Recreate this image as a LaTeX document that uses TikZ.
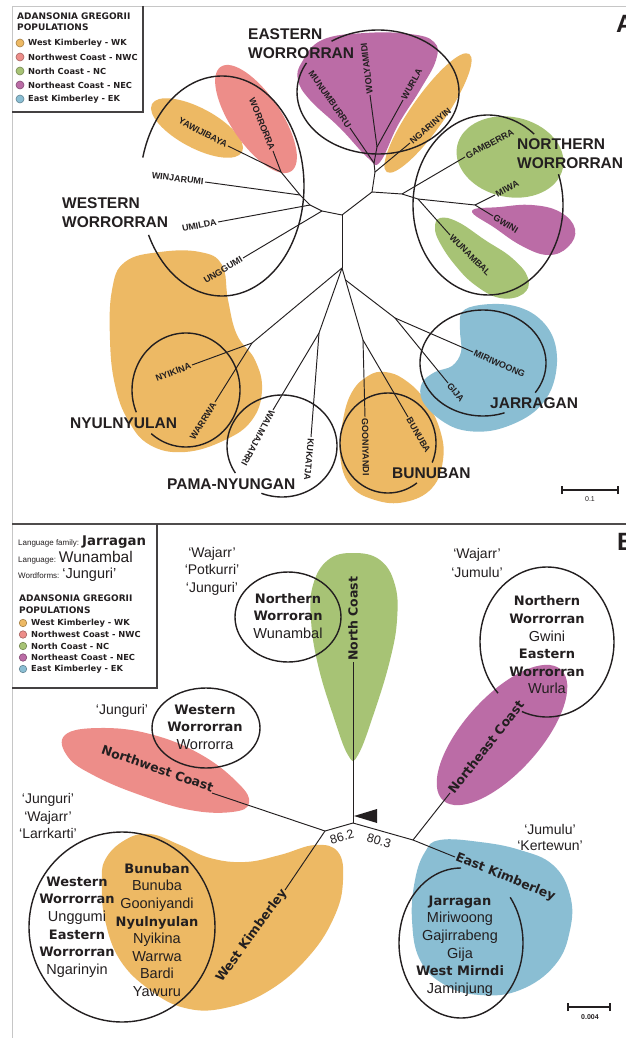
\documentclass[tikz,border=0pt]{standalone}
\usepackage{fontspec}
\setmainfont{Liberation Sans}
\newfontfamily\dvs{DejaVu Sans}
\definecolor{ink}{RGB}{35,31,32}
\definecolor{cOr}{RGB}{237,185,100}
\definecolor{cPk}{RGB}{237,141,137}
\definecolor{cGr}{RGB}{167,195,117}
\definecolor{cPu}{RGB}{187,108,166}
\definecolor{cBl}{RGB}{138,190,211}
\newcommand\garc[6]{\draw[outline] plot[domain=#5:#6,samples=100,smooth] ({#1+#3*cos(\x)},{#2+#4*sin(\x)});}
\newcommand\bw[1]{{\dvs\bfseries\fontsize{13}{17.6}\selectfont #1}}
\begin{document}
\begin{tikzpicture}[x=1pt,y=-1pt,
  leaf/.style={font=\bfseries\fontsize{9}{9.5}\selectfont, inner sep=1.3pt, text=ink},
  grp/.style={font=\bfseries\fontsize{15.5}{19.5}\selectfont, align=left, inner sep=0pt, text=ink, anchor=north west},
  br/.style={draw=ink, line width=0.95pt},
  outline/.style={draw=ink, line width=1.4pt},
  bname/.style={font=\dvs\bfseries\fontsize{12.5}{14}\selectfont, inner sep=1pt, text=ink},
  info/.style={font=\fontsize{14.5}{17.6}\selectfont, align=center, text=ink, inner sep=0pt},
  legt/.style={font=\dvs\bfseries\fontsize{9}{10.5}\selectfont, align=left, inner sep=0pt, anchor=north west, text=ink},
  legi/.style={font=\dvs\bfseries\fontsize{8.3}{9}\selectfont, anchor=west, inner sep=0pt, text=ink},
  dot/.style={circle, minimum size=8pt, inner sep=0pt, line width=0.6pt}
]
\useasboundingbox (0,0) rectangle (626,1038);
\fill[white] (0,0) rectangle (626,1038);

% ===================== frames =====================
\draw[gray!45, line width=0.8pt] (12,1038) -- (12,6) -- (626,6);
\draw[ink!85, line width=2pt] (143,6) -- (143,112) -- (12,112);
\draw[ink!80, line width=1.6pt] (12,524) -- (626,524);
\draw[ink!85, line width=2pt] (157,524) -- (157,688) -- (12,688);

% ===================== legend A =====================
\node[legt] (legAt) at (17,13) {ADANSONIA GREGORII\\POPULATIONS};
\foreach \y/\c/\t [count=\i] in {43/cOr/West Kimberley - WK,57/cPk/Northwest Coast - NWC,71/cGr/North Coast - NC,85/cPu/Northeast Coast - NEC,99/cBl/East Kimberley - EK}{
  \node[dot, fill=\c, draw=\c!70!black] (dA\i) at (20,\y) {};
  \node[legi] (tA\i) at (28,\y) {\t};
}
\node[font=\bfseries\fontsize{25}{25}\selectfont, anchor=base west, inner sep=0pt, text=ink] (lblA) at (616,33) {A};

% ===================== top blobs =====================
\fill[cOr, rotate around={-28:(197,128)}] (197,128) ellipse[x radius=51, y radius=20];
\fill[cPk, rotate around={-56:(256,119)}] (256,119) ellipse[x radius=63, y radius=25];
\fill[cPu] plot[smooth cycle, tension=0.7] coordinates {(302,62) (322,40) (365,33) (410,34) (434,42) (436,60) (420,90) (398,125) (380,162) (368,158) (340,128) (310,100) (298,80)};
\fill[cOr, rotate around={55:(428,113)}] (428,113) ellipse[x radius=72, y radius=17];
\fill[cGr, rotate around={-12:(510,157)}] (510,157) ellipse[x radius=54, y radius=40];
\fill[cPu] plot[smooth cycle, tension=0.7] coordinates {(472,211) (500,207) (532,205) (560,212) (575,229) (568,247) (548,255) (522,246) (495,228)};
\fill[cGr] plot[smooth cycle, tension=0.7] coordinates {(440,218) (458,222) (485,240) (512,258) (528,278) (523,294) (500,298) (475,285) (455,265) (440,243) (435,228)};
\fill[cOr] plot[smooth cycle, tension=0.7] coordinates {(112,290) (125,262) (160,252) (200,252) (222,265) (228,300) (237,335) (255,360) (262,390) (252,420) (225,440) (185,452) (150,445) (128,420) (115,385) (110,340)};
\fill[cOr] plot[smooth cycle, tension=0.7] coordinates {(368,376) (385,372) (405,380) (425,400) (440,430) (443,460) (432,488) (405,502) (375,500) (350,485) (340,455) (343,420) (352,392)};
\fill[cBl] plot[smooth cycle, tension=0.6] coordinates {(462,312) (480,305) (510,305) (535,315) (552,335) (557,362) (550,392) (530,415) (495,430) (462,430) (438,418) (422,400) (422,383) (435,372) (452,366) (461,352) (460,330)};

% ===================== top group outlines =====================
\garc{222}{186}{82}{110}{195}{513.6}
\garc{378}{92}{81}{62}{235}{568}
\garc{488}{205}{75}{90}{340}{668}
\garc{186}{390}{54}{57}{157}{490}
\garc{282}{446}{55}{51}{148}{472}
\garc{388}{443}{48}{50}{53}{383}
\garc{483}{363}{63}{53}{70}{394}

% ===================== top tree =====================
\coordinate (c1) at (342,215);
\coordinate (c2) at (342,268);
\coordinate (nw) at (322,211);
\coordinate (nb) at (310,205);
\coordinate (na) at (300,195);
\coordinate (np) at (281,172);
\coordinate (ej) at (372,192);
\coordinate (e1) at (375,172);
\coordinate (e2) at (374,163);
\coordinate (e3) at (377,147);
\coordinate (nn) at (402,194);
\coordinate (n2) at (418,199);
\coordinate (n3) at (475,205);
\coordinate (ny) at (252,343);
\coordinate (pn) at (319,333);
\coordinate (bj) at (345.5,280);
\coordinate (bn) at (363,340);
\coordinate (jn) at (395,318);

\coordinate (yaw) at (228,146);
\coordinate (wor) at (273,151);
\coordinate (win) at (205,182);
\coordinate (umi) at (218,222);
\coordinate (ung) at (243,258);
\coordinate (mun) at (350,128);
\coordinate (wol) at (370,95);
\coordinate (wur) at (403,100);
\coordinate (nga) at (410,143);
\coordinate (gam) at (465,157);
\coordinate (miw) at (495,195);
\coordinate (gwi) at (493,216);
\coordinate (wun) at (450,235);
\coordinate (mir) at (473,352);
\coordinate (gij) at (448,383);
\coordinate (goo) at (365,417);
\coordinate (bun) at (408,417);
\coordinate (kuk) at (311,437);
\coordinate (wal) at (273,410);
\coordinate (nyi) at (192,365);
\coordinate (war) at (215,402);

\draw[br] (c1) -- (c2);
\draw[br] (c1) -- (nw);
\draw[br] (nw) -- (ung);
\draw[br] (nw) -- (nb);
\draw[br] (nb) -- (umi);
\draw[br] (nb) -- (na);
\draw[br] (na) -- (win);
\draw[br] (na) -- (np);
\draw[br] (np) -- (yaw);
\draw[br] (np) -- (wor);
\draw[br] (c1) -- (ej);
\draw[br] (ej) -- (e1);
\draw[br] (e1) -- (nga);
\draw[br] (e1) -- (e2);
\draw[br] (e2) -- (mun);
\draw[br] (e2) -- (e3);
\draw[br] (e3) -- (wol);
\draw[br] (e3) -- (wur);
\draw[br] (ej) -- (nn);
\draw[br] (nn) -- (gam);
\draw[br] (nn) -- (n2);
\draw[br] (n2) -- (wun);
\draw[br] (n2) -- (n3);
\draw[br] (n3) -- (miw);
\draw[br] (n3) -- (gwi);
\draw[br] (c2) -- (ny);
\draw[br] (ny) -- (nyi);
\draw[br] (ny) -- (war);
\draw[br] (c2) -- (pn);
\draw[br] (pn) -- (wal);
\draw[br] (pn) -- (kuk);
\draw[br] (c2) -- (bj);
\draw[br] (bj) -- (bn);
\draw[br] (bn) -- (goo);
\draw[br] (bn) -- (bun);
\draw[br] (bj) -- (jn);
\draw[br] (jn) -- (mir);
\draw[br] (jn) -- (gij);

\node[leaf, anchor=east, rotate=-28] (tyaw) at (yaw) {YAWIJIBAYA};
\node[leaf, anchor=east, rotate=-68] (twor) at (wor) {WORRORRA};
\node[leaf, anchor=east, rotate=-7] (twin) at (win) {WINJARUMI};
\node[leaf, anchor=east, rotate=11] (tumi) at (umi) {UMILDA};
\node[leaf, anchor=east, rotate=31] (tung) at (ung) {UNGGUMI};
\node[leaf, anchor=east, rotate=-55] (tmun) at (mun) {MUNUMBURRU};
\node[leaf, anchor=west, rotate=97] (twol) at (wol) {WOLYAMIDI};
\node[leaf, anchor=west, rotate=61] (twur) at (wur) {WURLA};
\node[leaf, anchor=west, rotate=40] (tnga) at (nga) {NGARINYIN};
\node[leaf, anchor=west, rotate=28] (tgam) at (gam) {GAMBERRA};
\node[leaf, anchor=west, rotate=27] (tmiw) at (miw) {MIWA};
\node[leaf, anchor=west, rotate=-31] (tgwi) at (gwi) {GWINI};
\node[leaf, anchor=west, rotate=-45] (twun) at (wun) {WUNAMBAL};
\node[leaf, anchor=west, rotate=-24] (tmir) at (mir) {MIRIWOONG};
\node[leaf, anchor=west, rotate=-50] (tgij) at (gij) {GIJA};
\node[leaf, anchor=west, rotate=-89] (tgoo) at (goo) {GOONIYANDI};
\node[leaf, anchor=west, rotate=-60] (tbun) at (bun) {BUNUBA};
\node[leaf, anchor=west, rotate=-95] (tkuk) at (kuk) {KUKATJA};
\node[leaf, anchor=west, rotate=-118] (twal) at (wal) {WALMAJARRI};
\node[leaf, anchor=east, rotate=21] (tnyi) at (nyi) {NYIKINA};
\node[leaf, anchor=east, rotate=58] (twar) at (war) {WARRWA};

\node[grp] (gEW) at (248,28) {EASTERN\\WORRORRAN};
\node[grp] (gNW) at (517,138) {NORTHERN\\WORRORRAN};
\node[grp] (gWW) at (62,197) {WESTERN\\WORRORRAN};
\node[grp] (gNY) at (70,418) {NYULNYULAN};
\node[grp] (gPN) at (167,478) {PAMA-NYUNGAN};
\node[grp] (gBU) at (392,468) {BUNUBAN};
\node[grp] (gJA) at (490,397) {JARRAGAN};

\coordinate (sA1) at (562,490);
\coordinate (sA2) at (618,490);
\draw[ink, line width=1.4pt] (sA1) -- (sA2);
\draw[ink, line width=1.4pt] ([yshift=-4pt]sA1) -- ([yshift=4pt]sA1);
\draw[ink, line width=1.4pt] ([yshift=-4pt]sA2) -- ([yshift=4pt]sA2);
\node[font=\fontsize{7}{7.5}\selectfont, text=ink, inner sep=0pt] (sAt) at (590,499) {0.1};

% ===================== legend B =====================
\node[anchor=base west, inner sep=0pt, text=ink] (lf) at (18,545) {\fontsize{8}{9}\selectfont Language family: {\dvs\bfseries\fontsize{13.3}{14}\selectfont Jarragan}};
\node[anchor=base west, inner sep=0pt, text=ink] (ll) at (18,562) {\fontsize{8}{9}\selectfont Language: {\fontsize{15.5}{16}\selectfont Wunambal}};
\node[anchor=base west, inner sep=0pt, text=ink] (lw) at (18,578) {\fontsize{8}{9}\selectfont Wordforms: {\fontsize{14.5}{15}\selectfont ‘Junguri’}};
\node[legt, font=\dvs\bfseries\fontsize{9}{11.5}\selectfont] (legBt) at (19,595) {ADANSONIA GREGORII\\POPULATIONS};
\foreach \y/\c/\t [count=\i] in {623/cOr/West Kimberley - WK,634.5/cPk/Northwest Coast - NWC,646/cGr/North Coast - NC,657.5/cPu/Northeast Coast - NEC,669/cBl/East Kimberley - EK}{
  \node[dot, minimum size=7.5pt, fill=\c, draw=\c!70!black] (dB\i) at (23,\y) {};
  \node[legi] (tB\i) at (31,\y) {\t};
}
\node[font=\bfseries\fontsize{25}{25}\selectfont, anchor=base west, inner sep=0pt, text=ink] (lblB) at (617,550) {B};

% ===================== bottom blobs =====================
\fill[cGr] plot[smooth cycle, tension=0.7] coordinates {(353,553) (380,560) (395,585) (397,620) (390,660) (375,710) (358,755) (348,755) (333,715) (318,665) (311,620) (313,585) (328,560)};
\fill[cPk] plot[smooth cycle, tension=0.7] coordinates {(65,735) (100,728) (150,734) (200,754) (238,783) (249,803) (232,812) (190,810) (140,795) (95,776) (68,757)};
\fill[cPu, rotate around={48:(502,735)}] (502,735) ellipse[x radius=88, y radius=38];
\fill[cOr] plot[smooth cycle, tension=0.7] coordinates {(105,860) (125,840) (150,834) (180,845) (210,858) (245,862) (280,855) (315,845) (338,852) (343,880) (335,915) (310,955) (270,990) (225,1008) (185,1008) (150,990) (120,960) (105,920) (102,885)};
\fill[cBl] plot[smooth cycle, tension=0.7] coordinates {(440,840) (480,842) (520,850) (553,865) (570,895) (570,930) (555,965) (520,990) (480,995) (445,985) (420,960) (412,920) (415,880) (425,852)};

% ===================== bottom outlines =====================
\draw[outline] (288,617) ellipse[x radius=53, y radius=45];
\draw[outline] (206,728) ellipse[x radius=54, y radius=40];
\garc{547}{642}{67}{75}{137}{472}
\draw[outline] (122,927) ellipse[x radius=93, y radius=95];
\garc{461}{943}{62}{75}{322.5}{630}

% ===================== bottom tree =====================
\coordinate (l1) at (325,831);
\coordinate (r0) at (353,823);
\coordinate (r1) at (413,840);
\coordinate (nwc) at (212,793);
\coordinate (wk) at (285,890);
\coordinate (nc) at (353,662);
\coordinate (nec) at (450,793);
\coordinate (ek) at (455,857);
\draw[br] (l1) -- (r0);
\draw[br] (l1) -- (nwc);
\draw[br] (l1) -- (wk);
\draw[br] (r0) -- (nc);
\draw[br] (r0) -- (r1);
\draw[br] (r1) -- (nec);
\draw[br] (r1) -- (ek);
\fill[ink] (354,816) -- (377,809) -- (377,823) -- cycle;

\node[bname, anchor=south east, rotate=-19, inner sep=0.5pt] (tnwc) at (nwc) {Northwest Coast};
\node[bname, anchor=east, rotate=54] (twk) at (wk) {West Kimberley};
\node[bname, anchor=west, rotate=90] (tnc) at (nc) {North Coast};
\node[bname, anchor=west, rotate=52] (tnec) at (nec) {Northeast Coast};
\node[bname, anchor=west, rotate=-22] (tek) at (ek) {East Kimberley};
\node[font=\fontsize{12.5}{13}\selectfont, rotate=16, text=ink, inner sep=0pt] (v1) at (342,837) {86.2};
\node[font=\fontsize{12.5}{13}\selectfont, rotate=-16, text=ink, inner sep=0pt] (v2) at (379,841) {80.3};

% ===================== bottom texts =====================
\node[info] (nwA) at (288,616) {\bw{Northern}\\\bw{Worroran}\\Wunambal};
\node[info] (nwB) at (547,645) {\bw{Northern}\\\bw{Worrorran}\\Gwini\\\bw{Eastern}\\\bw{Worrorran}\\Wurla};
\node[info] (wwB) at (205,727) {\bw{Western}\\\bw{Worrorran}\\Worrorra};
\node[info] (lc1) at (77,927) {\bw{Western}\\\bw{Worrorran}\\Unggumi\\\bw{Eastern}\\\bw{Worrorran}\\Ngarinyin};
\node[info] (lc2) at (157,930) {\bw{Bunuban}\\Bunuba\\Gooniyandi\\\bw{Nyulnyulan}\\Nyikina\\Warrwa\\Bardi\\Yawuru};
\node[info] (ekc) at (460,946) {\bw{Jarragan}\\Miriwoong\\Gajirrabeng\\Gija\\\bw{West Mirndi}\\Jaminjung};
\node[info, font=\fontsize{14}{17.5}\selectfont] (wf1) at (212,571) {‘Wajarr’\\‘Potkurri’\\‘Junguri’};
\node[info, font=\fontsize{14}{19.5}\selectfont] (wf2) at (477,563) {‘Wajarr’\\‘Jumulu’};
\node[info, font=\fontsize{14}{17.5}\selectfont] (wf3) at (122,711) {‘Junguri’};
\node[info, font=\fontsize{14}{17.5}\selectfont] (wf4) at (48,816) {‘Junguri’\\‘Wajarr’\\‘Larrkarti’};
\node[info, font=\fontsize{14}{16}\selectfont] (wf5) at (550,837) {‘Jumulu’\\‘Kertewun’};

\coordinate (sB1) at (568,1007);
\coordinate (sB2) at (610,1007);
\draw[ink, line width=1.4pt] (sB1) -- (sB2);
\draw[ink, line width=1.4pt] ([yshift=-4pt]sB1) -- ([yshift=4pt]sB1);
\draw[ink, line width=1.4pt] ([yshift=-4pt]sB2) -- ([yshift=4pt]sB2);
\node[font=\bfseries\fontsize{7}{7.5}\selectfont, text=ink, inner sep=0pt] (sBt) at (590,1017) {0.004};
\end{tikzpicture}
\end{document}
